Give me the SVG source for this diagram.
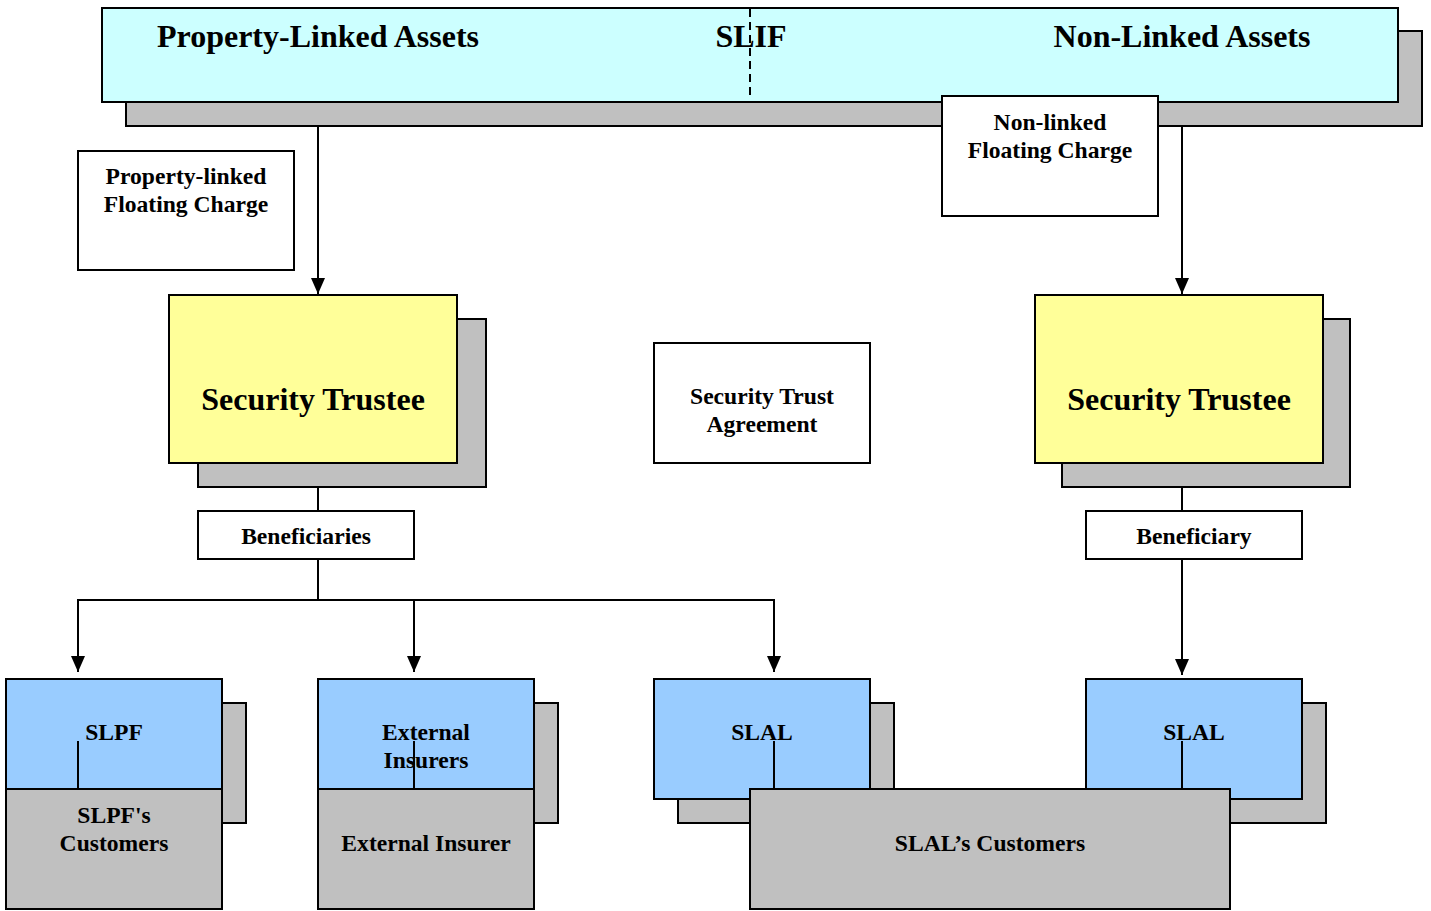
<svg xmlns="http://www.w3.org/2000/svg" width="1431" height="911" viewBox="0 0 1431 911">
<style>
text{font-family:"Liberation Serif","Times New Roman",serif;font-weight:bold;fill:#000;text-anchor:middle}
.t32{font-size:32px}
.t24{font-size:23.6px}
rect{stroke:#000;stroke-width:2}
.sh{fill:#C0C0C0}
.cy{fill:#CCFFFF}
.ye{fill:#FFFF99}
.bl{fill:#99CCFF}
.wh{fill:#FFFFFF}
.ln{stroke:#000;stroke-width:2;fill:none}
</style>
<defs>
<marker id="arrd" markerUnits="userSpaceOnUse" markerWidth="16" markerHeight="18" viewBox="-8 -18 16 18" refX="0" refY="0" orient="0">
<path d="M-7,-16 L7,-16 L0,0 Z" fill="#000"/>
</marker>
</defs>

<g id="slif">
<rect class="sh" x="126" y="31" width="1296" height="95"/>
<rect class="cy" x="102" y="8" width="1296" height="94"/>
<line x1="750" y1="9" x2="750" y2="100" stroke="#000" stroke-width="2" stroke-dasharray="8,5"/>
<text class="t32" x="318" y="47">Property-Linked Assets</text>
<text class="t32" x="751" y="47">SLIF</text>
<text class="t32" x="1182" y="47">Non-Linked Assets</text>
</g>

<g id="connectors">
<line class="ln" x1="318" y1="126" x2="318" y2="294" marker-end="url(#arrd)"/>
<line class="ln" x1="1182" y1="126" x2="1182" y2="294" marker-end="url(#arrd)"/>
<line class="ln" x1="318" y1="487" x2="318" y2="511"/>
<line class="ln" x1="318" y1="559" x2="318" y2="599"/>
<polyline class="ln" points="78,672 78,600 774,600 774,672"/>
<line class="ln" x1="78" y1="600" x2="78" y2="672" marker-end="url(#arrd)"/>
<line class="ln" x1="414" y1="600" x2="414" y2="672" marker-end="url(#arrd)"/>
<line class="ln" x1="774" y1="600" x2="774" y2="672" marker-end="url(#arrd)"/>
<line class="ln" x1="1182" y1="487" x2="1182" y2="511"/>
<line class="ln" x1="1182" y1="559" x2="1182" y2="675" marker-end="url(#arrd)"/>
</g>

<g id="nonlinked-charge">
<rect class="wh" x="942" y="96" width="216" height="120"/>
<text class="t24" x="1050" y="130">Non-linked</text>
<text class="t24" x="1050" y="158">Floating Charge</text>
</g>

<g id="property-charge">
<rect class="wh" x="78" y="151" width="216" height="119"/>
<text class="t24" x="186" y="184">Property-linked</text>
<text class="t24" x="186" y="212">Floating Charge</text>
</g>

<g id="trustee-left">
<rect class="sh" x="198" y="319" width="288" height="168"/>
<rect class="ye" x="169" y="295" width="288" height="168"/>
<text class="t32" x="313" y="410">Security Trustee</text>
</g>

<g id="trustee-right">
<rect class="sh" x="1062" y="319" width="288" height="168"/>
<rect class="ye" x="1035" y="295" width="288" height="168"/>
<text class="t32" x="1179" y="410">Security Trustee</text>
</g>

<g id="agreement">
<rect class="wh" x="654" y="343" width="216" height="120"/>
<text class="t24" x="762" y="404">Security Trust</text>
<text class="t24" x="762" y="432">Agreement</text>
</g>

<g id="beneficiaries">
<rect class="wh" x="198" y="511" width="216" height="48"/>
<text class="t24" x="306" y="544">Beneficiaries</text>
</g>

<g id="beneficiary">
<rect class="wh" x="1086" y="511" width="216" height="48"/>
<text class="t24" x="1194" y="544">Beneficiary</text>
</g>

<g id="slpf">
<rect class="sh" x="30" y="703" width="216" height="120"/>
<rect class="bl" x="6" y="679" width="216" height="110"/>
<text class="t24" x="114" y="740">SLPF</text>
<line class="ln" x1="78" y1="741" x2="78" y2="789"/>
</g>
<g id="slpf-customers">
<rect class="sh" x="6" y="789" width="216" height="120"/>
<text class="t24" x="114" y="823">SLPF's</text>
<text class="t24" x="114" y="851">Customers</text>
</g>

<g id="external-insurers">
<rect class="sh" x="342" y="703" width="216" height="120"/>
<rect class="bl" x="318" y="679" width="216" height="110"/>
<text class="t24" x="426" y="740">External</text>
<text class="t24" x="426" y="768">Insurers</text>
<line class="ln" x1="414" y1="741" x2="414" y2="789"/>
</g>
<g id="external-insurer">
<rect class="sh" x="318" y="789" width="216" height="120"/>
<text class="t24" x="426" y="851">External Insurer</text>
</g>

<g id="slal-left">
<rect class="sh" x="678" y="703" width="216" height="120"/>
<rect class="bl" x="654" y="679" width="216" height="120"/>
<text class="t24" x="762" y="740">SLAL</text>
<line class="ln" x1="774" y1="741" x2="774" y2="789"/>
</g>

<g id="slal-right">
<rect class="sh" x="1110" y="703" width="216" height="120"/>
<rect class="bl" x="1086" y="679" width="216" height="120"/>
<text class="t24" x="1194" y="740">SLAL</text>
<line class="ln" x1="1182" y1="741" x2="1182" y2="789"/>
</g>

<g id="slal-customers">
<rect class="sh" x="750" y="789" width="480" height="120"/>
<text class="t24" x="990" y="851">SLAL’s Customers</text>
</g>
</svg>
